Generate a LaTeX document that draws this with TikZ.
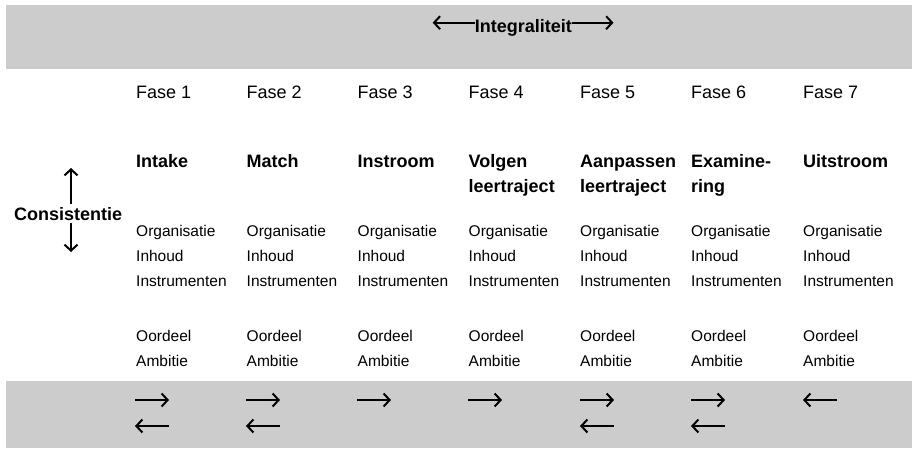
\documentclass[tikz,border=0pt]{standalone}
\usepackage{fontspec}
\setmainfont{Liberation Sans}
\usepackage{tikz}
\usetikzlibrary{arrows.meta}
\definecolor{bandgrey}{HTML}{CCCCCC}
\tikzset{
  every node/.style={inner sep=0pt, anchor=base west},
  fase/.style={font=\fontsize{18}{25}\selectfont},
  stap/.style={font=\bfseries\fontsize{18}{25}\selectfont, align=left},
  aspect/.style={font=\fontsize{15.5}{25.25}\selectfont, align=left},
  band/.style={fill=bandgrey, draw=none},
  pijl/.style={line width=2pt,
    -{Straight Barb[length=6pt,width=13pt]}},
}

\begin{document}
\begin{tikzpicture}[x=1pt, y=-1pt]
      \useasboundingbox (0,0) rectangle (912,448);
      \fill[band] (6,5)   rectangle (912,69);
      \fill[band] (6,381) rectangle (912,448);

      \node[stap,anchor=base]              (integ) at (523.4,32) {Integraliteit};
      \node[stap,inner ysep=3pt]           (cons)  at (14,220)   {Consistentie};

      \node[fase]   (f1) at (136,98.5)   {Fase 1};
      \node[fase]   (f2) at (246.5,98.5) {Fase 2};
      \node[fase]   (f3) at (357.5,98.5) {Fase 3};
      \node[fase]   (f4) at (468.5,98.5) {Fase 4};
      \node[fase]   (f5) at (580,98.5)   {Fase 5};
      \node[fase]   (f6) at (691,98.5)   {Fase 6};
      \node[fase]   (f7) at (803,98.5)   {Fase 7};

      % multi-line nodes sit on their last baseline
      \node[stap]   (s1) at (136,167)    {Intake};
      \node[stap]   (s2) at (246.5,167)  {Match};
      \node[stap]   (s3) at (357.5,167)  {Instroom};
      \node[stap]   (s4) at (468.5,192)  {Volgen\\leertraject};
      \node[stap]   (s5) at (580,192)    {Aanpassen\\leertraject};
      \node[stap]   (s6) at (691,192)    {Examine-\\ring};
      \node[stap]   (s7) at (803,167)    {Uitstroom};

      \node[aspect] (a1) at (136,286.5)    {Organisatie\\Inhoud\\Instrumenten};
      \node[aspect] (a2) at (246.5,286.5)  {Organisatie\\Inhoud\\Instrumenten};
      \node[aspect] (a3) at (357.5,286.5)  {Organisatie\\Inhoud\\Instrumenten};
      \node[aspect] (a4) at (468.5,286.5)  {Organisatie\\Inhoud\\Instrumenten};
      \node[aspect] (a5) at (580,286.5)    {Organisatie\\Inhoud\\Instrumenten};
      \node[aspect] (a6) at (691,286.5)    {Organisatie\\Inhoud\\Instrumenten};
      \node[aspect] (a7) at (803,286.5)    {Organisatie\\Inhoud\\Instrumenten};

      \node[aspect] (o1) at (136,366.5)   {Oordeel\\Ambitie};
      \node[aspect] (o2) at (246.5,366.5) {Oordeel\\Ambitie};
      \node[aspect] (o3) at (357.5,366.5) {Oordeel\\Ambitie};
      \node[aspect] (o4) at (468.5,366.5) {Oordeel\\Ambitie};
      \node[aspect] (o5) at (580,366.5)   {Oordeel\\Ambitie};
      \node[aspect] (o6) at (691,366.5)   {Oordeel\\Ambitie};
      \node[aspect] (o7) at (803,366.5)   {Oordeel\\Ambitie};

      % ends of the free arrows
      \coordinate (iL) at (432.7,22.7);
      \coordinate (iR) at (613.5,22.7);
      \coordinate (cU) at (71,168);
      \coordinate (cD) at (71,252);
      \foreach \x [count=\i] in {135,246,357,468,580,691,803} {
        \coordinate (l\i)  at (\x,400);  \coordinate (r\i)  at (\x+34,400);
        \coordinate (ll\i) at (\x,426);  \coordinate (rr\i) at (\x+34,426);
      }

      \draw[pijl] (integ.west |- iL) -- (iL);
      \draw[pijl] (integ.east |- iR) -- (iR);
      \draw[pijl] (cons.north -| cU) -- (cU);
      \draw[pijl] (cons.south -| cD) -- (cD);

      \draw[pijl] (l1)  -- (r1);
      \draw[pijl] (l2)  -- (r2);
      \draw[pijl] (l3)  -- (r3);
      \draw[pijl] (l4)  -- (r4);
      \draw[pijl] (l5)  -- (r5);
      \draw[pijl] (l6)  -- (r6);
      \draw[pijl] (r7)  -- (l7);
      \draw[pijl] (rr1) -- (ll1);
      \draw[pijl] (rr2) -- (ll2);
      \draw[pijl] (rr5) -- (ll5);
      \draw[pijl] (rr6) -- (ll6);
\end{tikzpicture}
\end{document}
